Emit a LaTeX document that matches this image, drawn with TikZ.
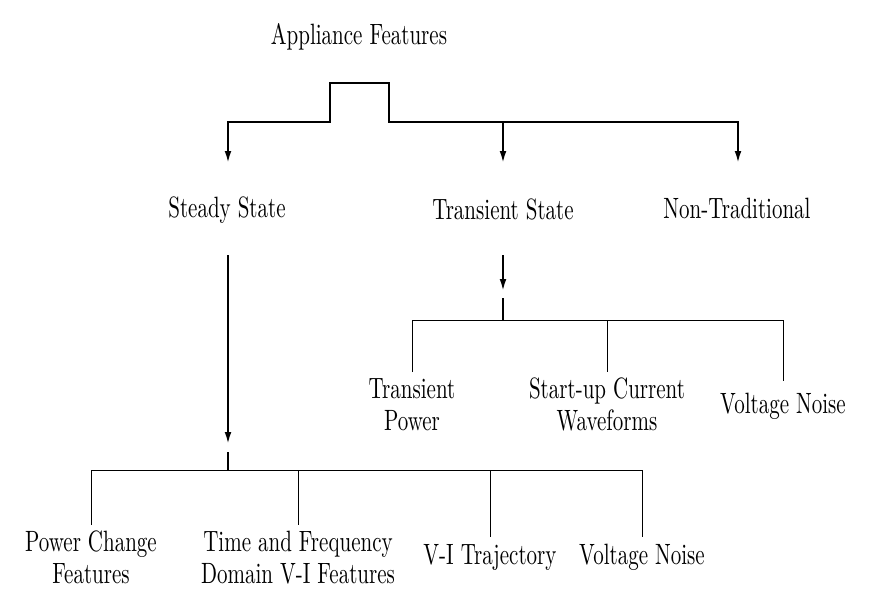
\documentclass[tikz,border=0pt]{standalone}
\usepackage{graphicx}
\usetikzlibrary{arrows.meta,calc}
\newcommand{\vstext}[1]{\scalebox{1}[1.4]{\fontsize{10.5}{11.6}\selectfont\begin{tabular}{@{}c@{}}#1\end{tabular}}}
\begin{document}
\begin{tikzpicture}[x=0.5pt,y=-0.5pt,
  lbl/.style={inner sep=0pt,outer sep=0pt,anchor=center},
  thk/.style={line width=1pt},
  thn/.style={line width=0.5pt},
  arr/.style={-{Latex[length=6pt,width=3.4pt]}}]
\useasboundingbox (0,0) rectangle (869,611);
% labels
\node[lbl] (app) at (359,38) {\vstext{Appliance Features}};
\node[lbl] (ss) at (227,211) {\vstext{Steady State}};
\node[lbl] (ts) at (503,213) {\vstext{Transient State}};
\node[lbl] (nt) at (737,212) {\vstext{Non-Traditional}};
\node[lbl] (tp) at (412,408) {\vstext{Transient\\Power}};
\node[lbl] (sc) at (607,408) {\vstext{Start-up Current\\Waveforms}};
\node[lbl] (vn1) at (783,407) {\vstext{Voltage Noise}};
\node[lbl] (pc) at (91,561) {\vstext{Power Change\\Features}};
\node[lbl] (tf) at (298,561) {\vstext{Time and Frequency\\Domain V-I Features}};
\node[lbl] (vi) at (490,558) {\vstext{V-I Trajectory}};
\node[lbl] (vn2) at (642,558) {\vstext{Voltage Noise}};
% top bracket
\coordinate (brk) at (359,83);
\coordinate (ssin) at (228,163);
\coordinate (tsin) at (503,163);
\coordinate (ntin) at (738,163);
\draw[thk,arr] (brk) -- (330,83) -- (330,122) -- (ssin |- 0,122) -- (ssin);
\draw[thk,arr] (brk) -- (389,83) -- (389,122) -- (ntin |- 0,122) -- (ntin);
\draw[thk,arr] (tsin |- 0,122) -- (tsin);
% steady state branch
\coordinate (ssout) at (228,255);
\coordinate (ssarr) at (228,444);
\coordinate (ssj) at (228,452);
\coordinate (ssbar) at (228,470);
\draw[thk,arr] (ssout) -- (ssarr);
\draw[thk] (ssj) -- (ssbar);
\draw[thn] (pc.north |- 0,525) -- (pc.north |- ssbar) -- (vn2.north |- ssbar) -- (vn2.north |- 0,537);
\draw[thn] (tf.north |- ssbar) -- (tf.north |- 0,525);
\draw[thn] (vi.north |- ssbar) -- (vi.north |- 0,537);
% transient branch
\coordinate (tsout) at (503,255);
\coordinate (tsarr) at (503,291);
\coordinate (tsj) at (503,298);
\coordinate (tsbar) at (503,320);
\draw[thk,arr] (tsout) -- (tsarr);
\draw[thk] (tsj) -- (tsbar);
\draw[thn] (tp.north |- 0,372) -- (tp.north |- tsbar) -- (vn1.north |- tsbar) -- (vn1.north |- 0,381);
\draw[thn] (sc.north |- tsbar) -- (sc.north |- 0,372);
\end{tikzpicture}
\end{document}
